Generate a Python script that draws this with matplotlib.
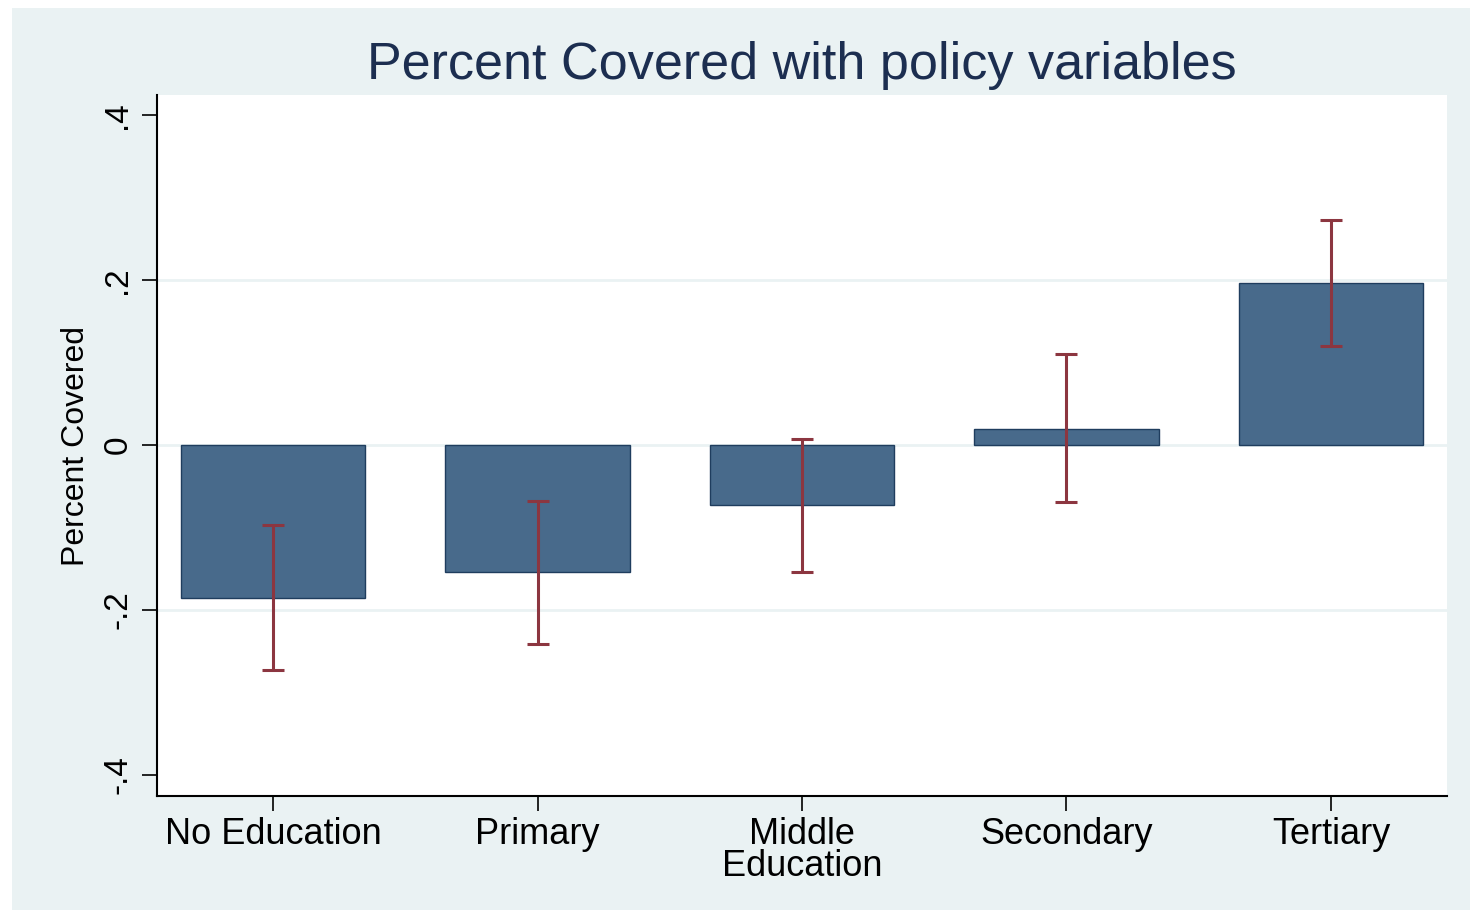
import matplotlib.pyplot as plt
import numpy as np
from matplotlib.patches import Rectangle

plt.rcParams['font.family'] = ['Liberation Sans', 'DejaVu Sans']

# estimates by education level, with confidence interval bounds
categories = ['No Education', 'Primary', 'Middle\nEducation', 'Secondary', 'Tertiary']
coef = [-0.186, -0.154, -0.073, 0.019, 0.196]
ci_low = [-0.273, -0.241, -0.154, -0.069, 0.120]
ci_high = [-0.097, -0.068, 0.007, 0.110, 0.273]
yticks = [-0.4, -0.2, 0, 0.2, 0.4]
yticklabels = ['-.4', '-.2', '0', '.2', '.4']

panel = '#eaf2f3'
bar_color = '#486a8b'
bar_edge = '#1f3d5e'
err_color = '#8c3640'

fig = plt.figure(figsize=(14.74, 9.13), dpi=100)
fig.patch.set_facecolor('white')
fig.patches.append(Rectangle((12 / 1474, 1 - 910 / 913), 1458 / 1474, 902 / 913,
                             transform=fig.transFigure, facecolor=panel,
                             edgecolor='none', zorder=-10))

ax = fig.add_axes([157 / 1474, 1 - 796 / 913, 1290 / 1474, 701 / 913])
ax.set_facecolor('white')

x = np.arange(len(categories))
ax.bar(x, coef, width=0.696, color=bar_color, edgecolor=bar_edge, linewidth=1, zorder=2)
yerr = [np.array(coef) - np.array(ci_low), np.array(ci_high) - np.array(coef)]
ax.errorbar(x, coef, yerr=yerr, fmt='none', ecolor=err_color, elinewidth=2.2,
            capsize=8, capthick=2.2, zorder=3)

# light gridlines on the interior ticks only
for g in yticks[1:-1]:
    ax.axhline(g, color=panel, linewidth=2, zorder=1)

ax.set_xlim(-0.4386, 4.4386)
ax.set_ylim(-0.4255, 0.4242)
ax.set_xticks(x)
ax.set_xticklabels(categories, fontsize=26, linespacing=0.88)
ax.set_yticks(yticks)
ax.set_yticklabels(yticklabels, fontsize=24, rotation=90, va='center')
ax.tick_params(axis='both', direction='out', length=11, width=1.2, color='black')
ax.tick_params(axis='x', pad=4)
ax.tick_params(axis='y', pad=6)

for side in ['top', 'right']:
    ax.spines[side].set_visible(False)
for side in ['left', 'bottom']:
    ax.spines[side].set_linewidth(1.5)

ax.set_ylabel('Percent Covered', fontsize=23, labelpad=8)
fig.text(0.544, 1 - 66 / 913, 'Percent Covered with policy variables', fontsize=37.5,
         color='#1c2e50', ha='center', va='center')

plt.savefig('out.png', dpi=100)
